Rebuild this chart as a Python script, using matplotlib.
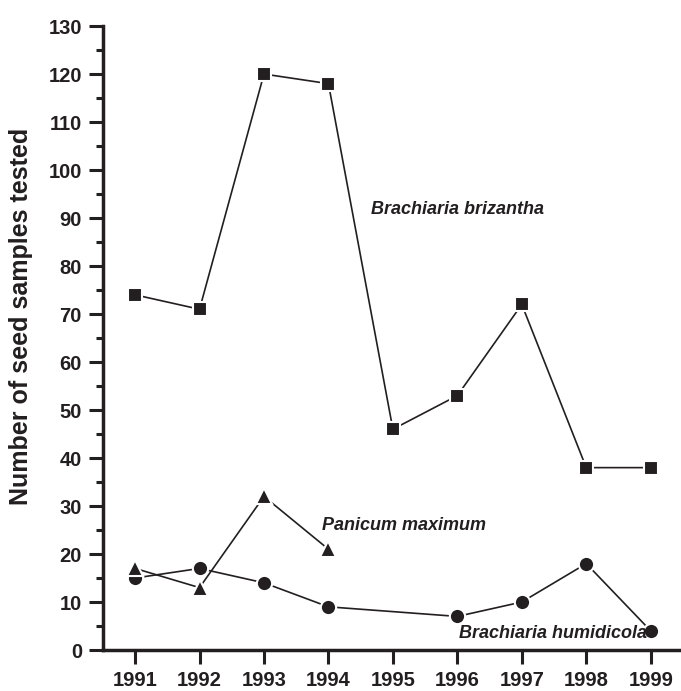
import numpy as np
import matplotlib.pyplot as plt
from matplotlib.ticker import MultipleLocator

plt.rcParams['font.family'] = ['Liberation Sans', 'DejaVu Sans']
plt.rcParams['font.weight'] = 'bold'

# Данные
years = np.arange(1991, 2000)
brizantha = [74, 71, 120, 118, 46, 53, 72, 38, 38]
humidicola_years = [1991, 1992, 1993, 1994, 1996, 1997, 1998, 1999]
humidicola = [15, 17, 14, 9, 7, 10, 18, 4]
panicum_years = [1991, 1992, 1993, 1994]
panicum = [17, 13, 32, 21]

fig = plt.figure(figsize=(6.81, 6.91), dpi=100)
ax = fig.add_axes([0.151, 0.0593, 0.849, 0.903])

kw = dict(color='#231f20', linewidth=1.2, markeredgecolor='white', markeredgewidth=1.5)
ax.plot(years, brizantha, marker='s', markersize=10, **kw)
ax.plot(humidicola_years, humidicola, marker='o', markersize=11, **kw)
ax.plot(panicum_years, panicum, marker='^', markersize=12, **kw)

# Подписи серий
tkw = dict(fontsize=13, fontstyle='italic', fontweight='bold', color='#231f20', va='center')
ax.text(1994.66, 91.7, 'Brachiaria brizantha', **tkw)
ax.text(1993.90, 26.0, 'Panicum maximum', **tkw)
ax.text(1996.02, 3.5, 'Brachiaria humidicola', **tkw)

ax.set_xlim(1990.50, 1999.47)
ax.set_ylim(0, 130)
ax.set_xticks(years)
ax.yaxis.set_major_locator(MultipleLocator(10))
ax.yaxis.set_minor_locator(MultipleLocator(5))
ax.tick_params(axis='both', which='major', direction='out', length=10, width=2.2,
               labelsize=14.5, colors='#231f20', pad=5)
ax.tick_params(axis='y', which='minor', direction='out', length=5, width=2.2, colors='#231f20')
for lab in ax.get_xticklabels() + ax.get_yticklabels():
    lab.set_fontweight('bold')

for s in ['top', 'right']:
    ax.spines[s].set_visible(False)
for s in ['left', 'bottom']:
    ax.spines[s].set_linewidth(2.5)
    ax.spines[s].set_color('#231f20')

ax.set_ylabel('Number of seed samples tested', fontsize=18, fontweight='bold',
              color='#231f20')
ax.yaxis.set_label_coords(-0.121, 0.535)

plt.savefig('out.png', dpi=100)
